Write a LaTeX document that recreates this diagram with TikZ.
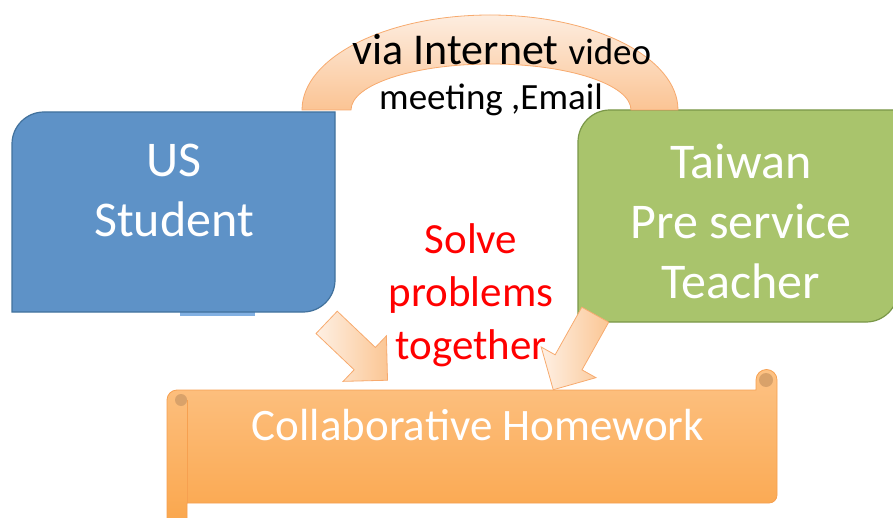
\documentclass[tikz,border=0pt]{standalone}
\usepackage{fontspec}
\setmainfont{Carlito}
\usetikzlibrary{shapes.arrows,calc,positioning}

\definecolor{usblue}{RGB}{94,146,199}
\definecolor{usedge}{RGB}{65,113,156}
\definecolor{tabblue}{RGB}{130,176,226}
\definecolor{twgreen}{RGB}{169,196,108}
\definecolor{twedge}{RGB}{122,151,72}
\definecolor{arclight}{RGB}{253,237,224}
\definecolor{arcdark}{RGB}{251,196,148}
\definecolor{arcedge}{RGB}{247,170,110}
\definecolor{arrowlight}{RGB}{254,240,228}
\definecolor{arrowdark}{RGB}{251,198,148}
\definecolor{scrolllight}{RGB}{253,194,132}
\definecolor{scrolldark}{RGB}{250,166,76}
\definecolor{scrolledge}{RGB}{246,160,80}
\definecolor{curl}{RGB}{217,162,106}

\begin{document}
\begin{tikzpicture}[x=1pt,y=1pt,
    boxtext/.style={align=center,text=white,inner sep=0pt,font=\fontsize{50}{60}\selectfont},
    blockarrow/.style={single arrow,draw=arcedge,left color=arrowlight,right color=arrowdark,
        single arrow head extend=16pt,inner xsep=0pt,inner ysep=15pt,outer sep=0pt,
        sloped,allow upside down,line width=0.8pt}]
    \useasboundingbox (0,0) rectangle (893,517);

    % Small tab under the US box.
    \fill[tabblue] (180,201) rectangle (255,209);

    % Draw the US box.
    \draw[fill=usblue,draw=usedge,line width=1.2pt] (12,205) -- (12,373)
        arc[start angle=180,end angle=90,radius=32] -- (335,405) -- (335,237)
        arc[start angle=0,end angle=-90,radius=32] -- cycle;
    \node[boxtext] (us) at (174,327) {US\\Student};

    % Draw the Taiwan box.
    \draw[fill=twgreen,draw=twedge,line width=1.2pt] (578,195) -- (578,375)
        arc[start angle=180,end angle=90,radius=32] -- (898,407) -- (898,227)
        arc[start angle=0,end angle=-90,radius=32] -- cycle;
    \node[boxtext] (tw) at (741,296) {Taiwan\\Pre service\\Teacher};

    % Draw the arc between the boxes.
    \draw[draw=arcedge,top color=arclight,bottom color=arcdark,line width=0.8pt] (302,407)
        arc[start angle=180,end angle=0,x radius=188,y radius=95] -- (631,407)
        arc[start angle=0,end angle=180,x radius=140,y radius=46] -- cycle;
    \node[anchor=base,inner sep=0pt] (via) at (502,452)
        {\fontsize{44}{50}\selectfont via Internet \fontsize{37}{44}\selectfont video};
    \node[anchor=base,inner sep=0pt] (meet) at (491,407)
        {\fontsize{37}{44}\selectfont meeting ,Email};

    % Draw the scroll.
    \draw[draw=scrolledge,top color=scrolllight,bottom color=scrolldark,line width=0.8pt]
        (167,-10) -- (167,117) arc[start angle=180,end angle=90,radius=10] -- (756,127)
        -- (756,137) arc[start angle=180,end angle=0,radius=10.5] -- (777,22)
        arc[start angle=0,end angle=-90,radius=8] -- (187,14) -- (187,-10) -- cycle;
    \fill[curl] (181,117) circle (6);
    \fill[curl] (766,137) circle (7);
    \draw[scrolledge,line width=0.8pt] (187,117) -- (187,14);
    \node[anchor=base,inner sep=0pt,text=white,font=\fontsize{45}{54}\selectfont] (hw)
        at (478,77) {Collaborative Homework};

    % Red text in the middle.
    \node[align=center,text=red,inner sep=0pt,font=\fontsize{43}{53}\selectfont] (solve)
        at (471,222) {Solve\\problems\\together};

    % Draw the block arrows.
    \coordinate (ltail) at (321,200);
    \coordinate (ltip) at (382,142);
    \coordinate (rtail) at (599,209);
    \coordinate (rtip) at (557,134);
    \path (ltail) -- (ltip) node[blockarrow,midway,minimum height=84pt] (larrow) {};
    \path (rtail) -- (rtip) node[blockarrow,midway,minimum height=86pt] (rarrow) {};
\end{tikzpicture}
\end{document}
